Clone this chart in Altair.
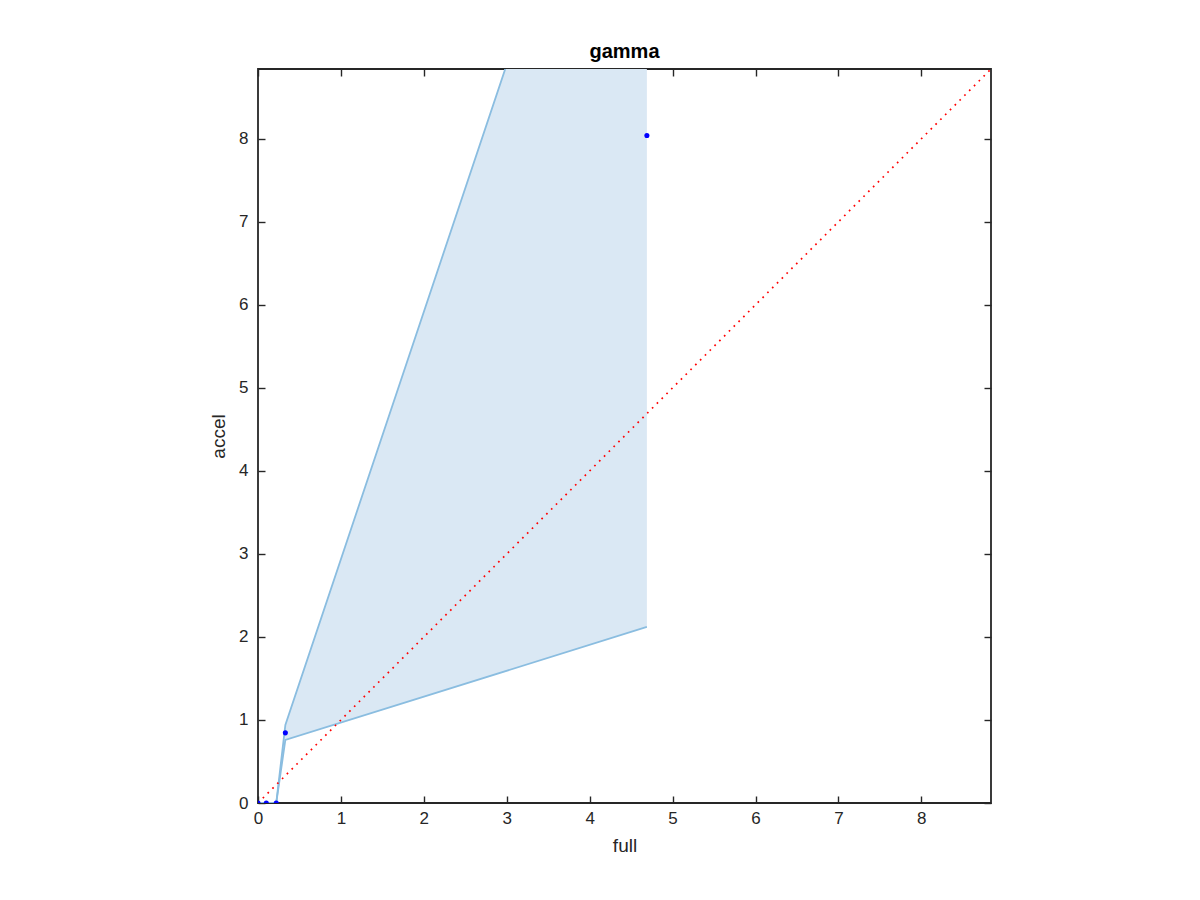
import altair as alt
import pandas as pd

# data
band_x = [0.0, 0.10, 0.22, 0.33, 4.69]
band_upper = [0.0, 0.0, 0.0, 0.94, 13.93]
band_lower = [0.0, 0.0, 0.0, 0.76, 2.12]

pts_x = [0.0, 0.10, 0.22, 0.33, 4.69]
pts_y = [0.0, 0.0, 0.0, 0.845, 8.04]

diag = [0.0, 8.84]
ticks = [0, 1, 2, 3, 4, 5, 6, 7, 8]
lim = [0, 8.84]

band = pd.DataFrame({"x": band_x, "lo": band_lower, "hi": band_upper})
pts = pd.DataFrame({"x": pts_x, "y": pts_y})
dg = pd.DataFrame({"x": diag, "y": diag})

FONT = "Liberation Sans"
AX = "#262626"

xs = alt.Scale(domain=lim, nice=False, zero=False)
ys = alt.Scale(domain=lim, nice=False, zero=False)

common_axis = dict(values=ticks, tickSize=7, offset=-7, domain=False, grid=False,
                   tickColor=AX, tickWidth=1.4, labelColor=AX, labelFont=FONT,
                   labelFontSize=17, labelFlush=False, titleFont=FONT, titleFontSize=19,
                   titleFontWeight="normal", titleColor=AX)

x_bottom = alt.Axis(orient="bottom", title="full", labelPadding=7, titlePadding=10, **common_axis)
y_left = alt.Axis(orient="left", title="accel", labelPadding=10, titlePadding=10, **common_axis)
x_top = alt.Axis(orient="top", title=None, labels=False, **common_axis)
y_right = alt.Axis(orient="right", title=None, labels=False, **common_axis)

area = alt.Chart(band).mark_area(color="#dae8f4", opacity=1, clip=True).encode(
    x=alt.X("x:Q", scale=xs, axis=x_bottom),
    y=alt.Y("lo:Q", scale=ys, axis=y_left),
    y2="hi:Q",
)

upper = alt.Chart(band).mark_line(color="#8abde0", strokeWidth=1.8, clip=True).encode(
    x=alt.X("x:Q", scale=xs, axis=None), y=alt.Y("hi:Q", scale=ys, axis=None)
)
lower = alt.Chart(band).mark_line(color="#8abde0", strokeWidth=1.8, clip=True).encode(
    x=alt.X("x:Q", scale=xs, axis=None), y=alt.Y("lo:Q", scale=ys, axis=None)
)

diag_line = alt.Chart(dg).mark_line(color="#ff0000", strokeWidth=1.7,
                                     strokeDash=[1.7, 5.1], clip=True).encode(
    x=alt.X("x:Q", scale=xs, axis=x_top),
    y=alt.Y("y:Q", scale=ys, axis=y_right),
)

points = alt.Chart(pts).mark_circle(color="#0000ff", size=26, opacity=1, clip=True).encode(
    x=alt.X("x:Q", scale=xs, axis=None), y=alt.Y("y:Q", scale=ys, axis=None)
)

chart = alt.layer(area, upper, lower, diag_line, points).resolve_axis(
    x="independent", y="independent"
).properties(
    width=733,
    height=734,
    autosize=alt.AutoSizeParams(type="none"),
    padding={"left": 250, "top": 61, "right": 200, "bottom": 90},
    title=alt.TitleParams("gamma", font=FONT, fontSize=20, fontWeight="bold",
                          color="#000000", offset=6),
).configure(background="white").configure_view(stroke=AX, strokeWidth=1.8)

chart.save("out.html", embed_options={"renderer": "svg", "actions": False})
